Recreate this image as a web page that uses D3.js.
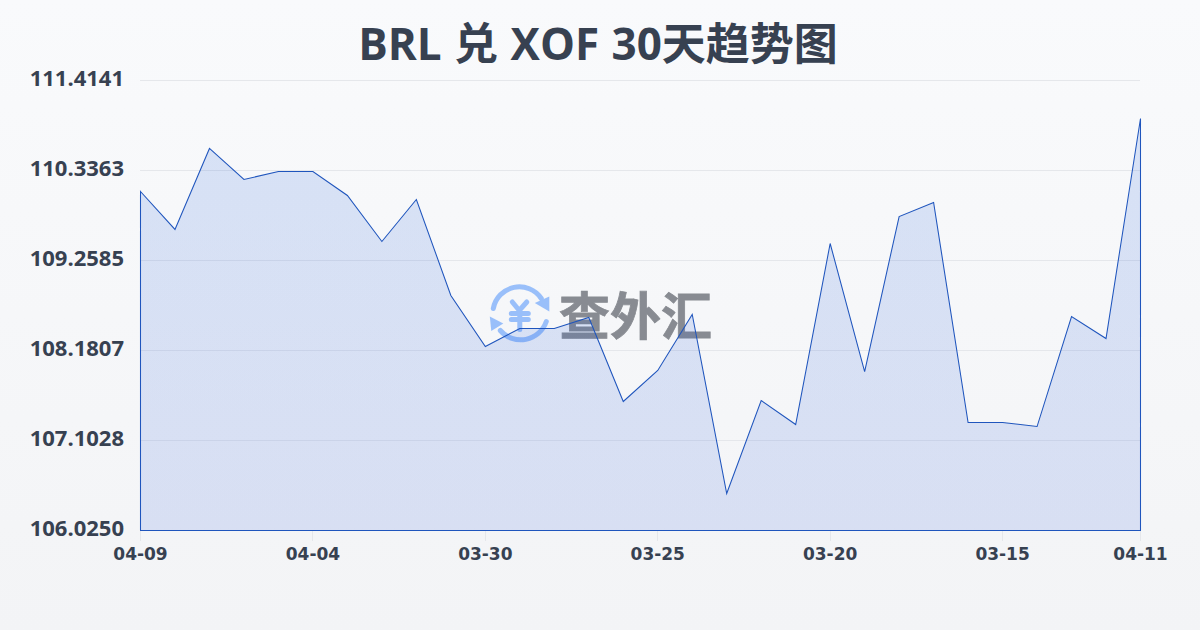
<!DOCTYPE html>
<html><head><meta charset="utf-8">
<script src="https://cdnjs.cloudflare.com/ajax/libs/d3/7.8.5/d3.min.js"></script>
<style>html,body{margin:0;padding:0;width:1200px;height:630px;overflow:hidden}svg{display:block}</style>
</head><body><svg id="c" width="1200" height="630"></svg>
<script>
const titleText = "BRL 兑 XOF 30天趋势图";
const dates = ["04-09","04-08","04-07","04-06","04-05","04-04","04-03","04-02","04-01","03-31","03-30","03-29","03-28","03-27","03-26","03-25","03-24","03-23","03-22","03-21","03-20","03-19","03-18","03-17","03-16","03-15","03-14","03-13","03-12","04-11"];
const values = [110.085,109.630,110.600,110.229,110.324,110.324,110.037,109.486,109.989,108.839,108.229,108.444,108.444,108.576,107.570,107.941,108.612,106.468,107.582,107.294,109.462,107.929,109.785,109.953,107.318,107.318,107.270,108.588,108.324,110.959];
const yTicks = [106.0250,107.1028,108.1807,109.2585,110.3363,111.4141];
const xTickIndex = [0,5,10,15,20,25,29];

const svg = d3.select("#c");
const defs = svg.append("defs");
const bg = defs.append("linearGradient").attr("id","bg").attr("x1",0).attr("y1",0).attr("x2",0).attr("y2",1);
bg.append("stop").attr("offset",0).attr("stop-color","#f9fafc");
bg.append("stop").attr("offset",1).attr("stop-color","#f3f4f6");
svg.append("rect").attr("width",1200).attr("height",630).attr("fill","url(#bg)");
const ag = defs.append("linearGradient").attr("id","ag").attr("x1",0).attr("y1",0).attr("x2",0).attr("y2",1);
ag.append("stop").attr("offset",0).attr("stop-color","#1d5fd8").attr("stop-opacity",.15);
ag.append("stop").attr("offset",1).attr("stop-color","#1d4ed8").attr("stop-opacity",.13);

const x = d3.scaleLinear().domain([0,dates.length-1]).range([140.5,1140.5]);
const y = d3.scaleLinear().domain([yTicks[0],yTicks[yTicks.length-1]]).range([530.5,80.5]);
const txt = "#374151";

svg.append("text").attr("x",598).attr("y",60).attr("text-anchor","middle")
  .attr("font-family","'Open Sans','Noto Sans CJK SC',sans-serif").attr("font-weight",700)
  .attr("word-spacing","1px").attr("font-size",44).attr("fill",txt).text(titleText);

svg.append("g").selectAll("line").data(yTicks).join("line")
  .attr("x1",140).attr("x2",1140).attr("y1",d=>Math.floor(y(d))+.5).attr("y2",d=>Math.floor(y(d))+.5)
  .attr("stroke","#e5e7eb").attr("stroke-width",1);

const wm = svg.append("g");
wm.append("text").attr("x",559).attr("y",335).attr("font-family","'Noto Sans CJK SC',sans-serif")
  .attr("font-weight",700).attr("font-size",51).attr("fill","#333842").attr("stroke","#333842").attr("stroke-width",.8).attr("opacity",0.56).text("查外汇");
const ic = wm.append("g").attr("transform","translate(519.3,313.5)").attr("opacity",0.6).attr("fill","none").attr("stroke","#5d9bfb").attr("stroke-width",5).attr("stroke-linecap","round");
ic.append("path").attr("d","M-26,-5 A26.5,26.5 0 0 1 22,-15");
ic.append("path").attr("d","M27,8 A27,27 0 0 1 -19,17");
ic.append("path").attr("fill","#5d9bfb").attr("stroke","none").attr("d","M30,-17 L30,-2 L15.5,-10.5 Z");
ic.append("path").attr("fill","#5d9bfb").attr("stroke","none").attr("d","M-29.5,3 L-16,10 L-28,17.5 Z");
ic.append("path").attr("stroke-width",5).attr("d","M-7,-11.5 L0,-3 L7.5,-11.5 M-8,0 H9 M-8,6 H9 M0.5,-3 V16");

const area = d3.area().x((d,i)=>x(i)).y0(y(yTicks[0])).y1(d=>y(d));
svg.append("path").datum(values).attr("d",area).attr("fill","url(#ag)")
  .attr("stroke","#1f55bd").attr("stroke-width",1.05).attr("stroke-linejoin","miter");

svg.append("g").selectAll("text").data(yTicks).join("text")
  .attr("x",124).attr("y",d=>y(d)+5.5).attr("text-anchor","end")
  .attr("font-family","'Open Sans',sans-serif").attr("font-weight",700).attr("font-size",22).attr("fill",txt)
  .text(d=>d.toFixed(4));

const xg = svg.append("g");
xg.selectAll("line").data(xTickIndex).join("line")
  .attr("x1",d=>Math.floor(x(d))+.5).attr("x2",d=>Math.floor(x(d))+.5).attr("y1",531).attr("y2",541)
  .attr("stroke","#e5e7eb");
xg.selectAll("text").data(xTickIndex).join("text")
  .attr("x",d=>x(d)).attr("y",560).attr("text-anchor","middle")
  .attr("font-family","'DejaVu Sans',sans-serif").attr("font-weight",700).attr("font-size",17).attr("fill",txt)
  .text(d=>dates[d]);
</script></body></html>
